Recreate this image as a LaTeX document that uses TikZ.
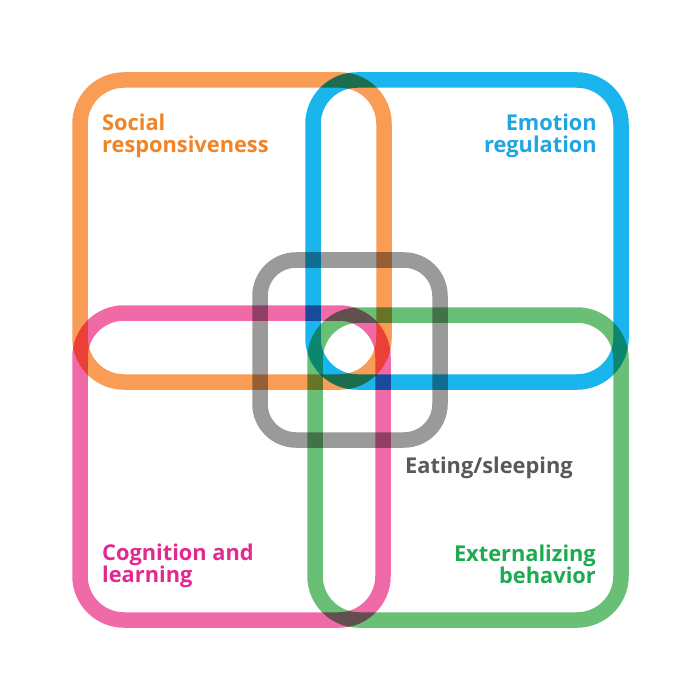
\documentclass[tikz,border=0pt]{standalone}
\usepackage{fontspec}
\setmainfont{Open Sans}
\definecolor{orangeS}{HTML}{F99C55}
\definecolor{blueS}{HTML}{1BB5EE}
\definecolor{pinkS}{HTML}{F06AA8}
\definecolor{greenS}{HTML}{6ABF77}
\definecolor{grayS}{HTML}{9A9A9A}
\definecolor{orangeT}{HTML}{F08426}
\definecolor{blueT}{HTML}{1FA6E0}
\definecolor{pinkT}{HTML}{E12A8F}
\definecolor{greenT}{HTML}{1DAA50}
\definecolor{grayT}{HTML}{58595B}
\tikzset{
  ring/.style={line width=15.5pt, rounded corners=44pt},
  lab/.style={inner sep=0pt, font=\fontsize{21.8}{23}\selectfont\bfseries},
}
\begin{document}
\begin{tikzpicture}[x=1pt,y=-1pt]
\useasboundingbox[fill=white] (0,0) rectangle (700,700);
\begin{scope}[blend group=multiply]
\draw[ring, orangeS] (80,80) rectangle (384,382);
\draw[ring, blueS] (313,80) rectangle (621,382);
\draw[ring, pinkS] (80,313) rectangle (383,620);
\draw[ring, greenS] (315,315) rectangle (621,620);
\draw[ring, grayS, rounded corners=36pt] (260,260) rectangle (440,440);
\end{scope}
\node[lab, orangeT, anchor=base west] (soc1) at (102,131) {Social};
\node[lab, orangeT, anchor=base west] (soc2) at (102,153) {responsiveness};
\node[lab, blueT, anchor=base east] (emo1) at (597,131) {Emotion};
\node[lab, blueT, anchor=base east] (emo2) at (597,153) {regulation};
\node[lab, pinkT, anchor=base west] (cog1) at (102,560) {Cognition and};
\node[lab, pinkT, anchor=base west] (cog2) at (102,582) {learning};
\node[lab, greenT, anchor=base east] (ext1) at (596,561) {Externalizing};
\node[lab, greenT, anchor=base east] (ext2) at (596,583) {behavior};
\node[lab, grayT, anchor=base west] (eat) at (405,473) {Eating/sleeping};
\end{tikzpicture}
\end{document}
